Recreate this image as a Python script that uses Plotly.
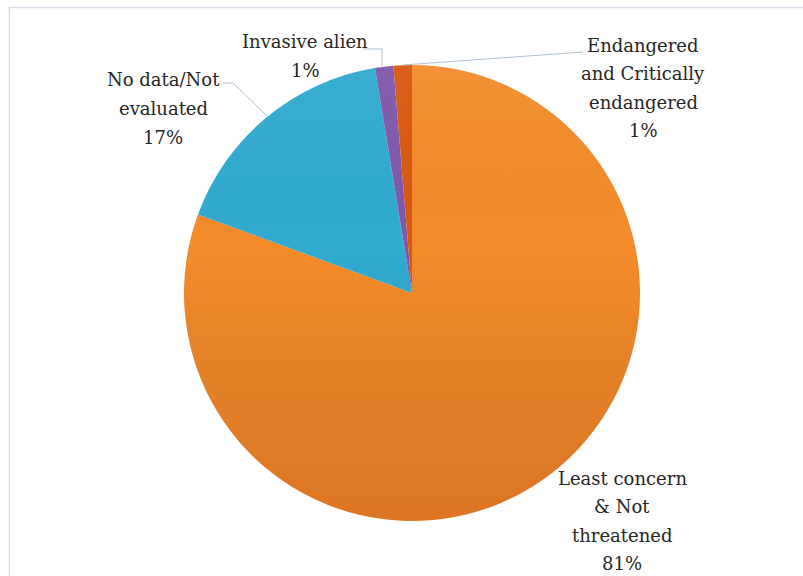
import base64
import plotly.graph_objects as go

# ---- data ----
categories = ["Least concern & Not threatened", "No data/Not evaluated",
              "Invasive alien", "Endangered and Critically endangered"]
values = [80.6, 16.8, 1.3, 1.3]
label_lines = [["Least concern", "& Not", "threatened"],
               ["No data/Not", "evaluated"],
               ["Invasive alien"],
               ["Endangered", "and Critically", "endangered"]]
colors = ["#F48B2B", "#31ABD0", "#8058AB", "#D9590F"]

W, H = 803, 576
cx, cy, r = 412, 293, 228

total = sum(values)
pct = [f"{int(v / total * 100 + 0.5)}%" for v in values]

fig = go.Figure(go.Pie(
    labels=categories, values=values, sort=False, direction="clockwise",
    rotation=0, textinfo="none", hoverinfo="label+percent",
    marker=dict(colors=colors, line=dict(width=0)),
    domain=dict(x=[(cx - r) / W, (cx + r) / W],
                y=[1 - (cy + r) / H, 1 - (cy - r) / H]),
    showlegend=False,
))

# soft vertical shading over the pie (style only)
svg = ('<svg xmlns="http://www.w3.org/2000/svg" width="100" height="100">'
       '<defs><linearGradient id="g" x1="0" y1="0" x2="0" y2="1">'
       '<stop offset="0" stop-color="#ffffff" stop-opacity="0.05"/>'
       '<stop offset="0.4" stop-color="#000000" stop-opacity="0.0"/>'
       '<stop offset="1" stop-color="#7a1500" stop-opacity="0.18"/>'
       '</linearGradient></defs>'
       '<circle cx="50" cy="50" r="50" fill="url(#g)"/></svg>')
src = "data:image/svg+xml;base64," + base64.b64encode(svg.encode()).decode()
fig.add_layout_image(source=src, xref="paper", yref="paper",
                     x=(cx - r) / W, y=1 - (cy - r) / H,
                     sizex=2 * r / W, sizey=2 * r / H,
                     xanchor="left", yanchor="top", sizing="stretch",
                     layer="above")

font = dict(family="DejaVu Serif", size=18, color="#262626")
line_gap = 28.5

# label positions: centre x and first-line y (pixels)
label_pos = [(622, 478), (163, 80), (305, 42), (643, 45)]
for lines, p, (x, y0) in zip(label_lines, pct, label_pos):
    for i, t in enumerate(lines + [p]):
        fig.add_annotation(text=t, x=x / W, y=1 - (y0 + i * line_gap) / H,
                           xref="paper", yref="paper", showarrow=False,
                           xanchor="center", yanchor="middle",
                           font=font)

# leader lines
leaders = [
    [(223, 83), (233, 83), (267, 116)],
    [(363, 49), (382, 49), (382, 66)],
    [(403, 65), (583, 52)],
]
for pts in leaders:
    path = "M " + " L ".join(f"{x / W},{1 - y / H}" for x, y in pts)
    fig.add_shape(type="path", path=path, xref="paper", yref="paper",
                  line=dict(color="#AFBFD2", width=1))

# outer frame
fig.add_shape(type="rect", x0=9.5 / W, y0=-0.05, x1=1.05, y1=1 - 7.5 / H,
              xref="paper", yref="paper", line=dict(color="#D6DEEA", width=1.5))

fig.update_layout(width=W, height=H, margin=dict(l=0, r=0, t=0, b=0),
                  paper_bgcolor="white", plot_bgcolor="white")
fig.write_html("out.html")
